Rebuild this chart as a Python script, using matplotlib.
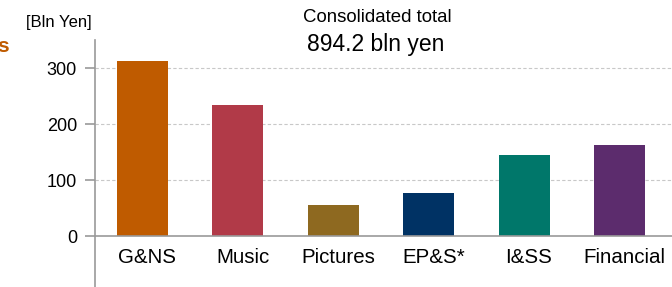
import matplotlib.pyplot as plt

plt.rcParams['font.family'] = ['Liberation Sans', 'DejaVu Sans']

# Data
segments = ['G&NS', 'Music', 'Pictures', 'EP&S*', 'I&SS', 'Financial']
values = [312, 234, 55, 77, 145, 162]
colors = ['#BF5B00', '#B13A48', '#8E6920', '#003264', '#00776A', '#5C2C6D']
yticks = [0, 100, 200, 300]

fig = plt.figure(figsize=(6.72, 2.87), dpi=100)
# axes box in figure fractions: left x=95px, top y=40px, bottom at figure bottom
ax = fig.add_axes([95 / 672, 0, 1 - 95 / 672, 1 - 40 / 287])

x = range(len(segments))
ax.bar(x, values, width=0.535, color=colors, zorder=3)

ax.set_xlim(-0.498, 5.55)
ax.set_ylim(-91, 350)

# dashed gridlines
for v in yticks[1:]:
    ax.axhline(v, color='#c8c8c8', lw=0.8, ls=(0, (3, 2)), zorder=1)
ax.axhline(0, color='#999999', lw=1.2, zorder=4)

ax.set_yticks(yticks)
ax.set_yticklabels([str(v) for v in yticks], fontsize=13)
ax.tick_params(axis='y', length=7, width=1.2, color='#999999', pad=6)
ax.set_xticks([])

for s in ['top', 'right', 'bottom']:
    ax.spines[s].set_visible(False)
ax.spines['left'].set_color('#999999')
ax.spines['left'].set_linewidth(1.2)

# category labels under the zero line (slightly right of the bar centres)
for i, name in enumerate(segments):
    ax.text(i + 0.05, -38, name, ha='center', va='center', fontsize=14.8)

fig.text(58.5 / 672, 1 - 22 / 287, '[Bln Yen]', ha='center', va='center', fontsize=12)
fig.text(377 / 672, 1 - 18 / 287, 'Consolidated total', ha='center', va='center', fontsize=13.4)
fig.text(376 / 672, 1 - 45 / 287, '894.2 bln yen', ha='center', va='center', fontsize=16.5)
fig.text(-3 / 672, 1 - 46 / 287, 's', ha='left', va='center', fontsize=15,
         fontweight='bold', color='#BF5B00')

fig.savefig('out.png', dpi=100)
